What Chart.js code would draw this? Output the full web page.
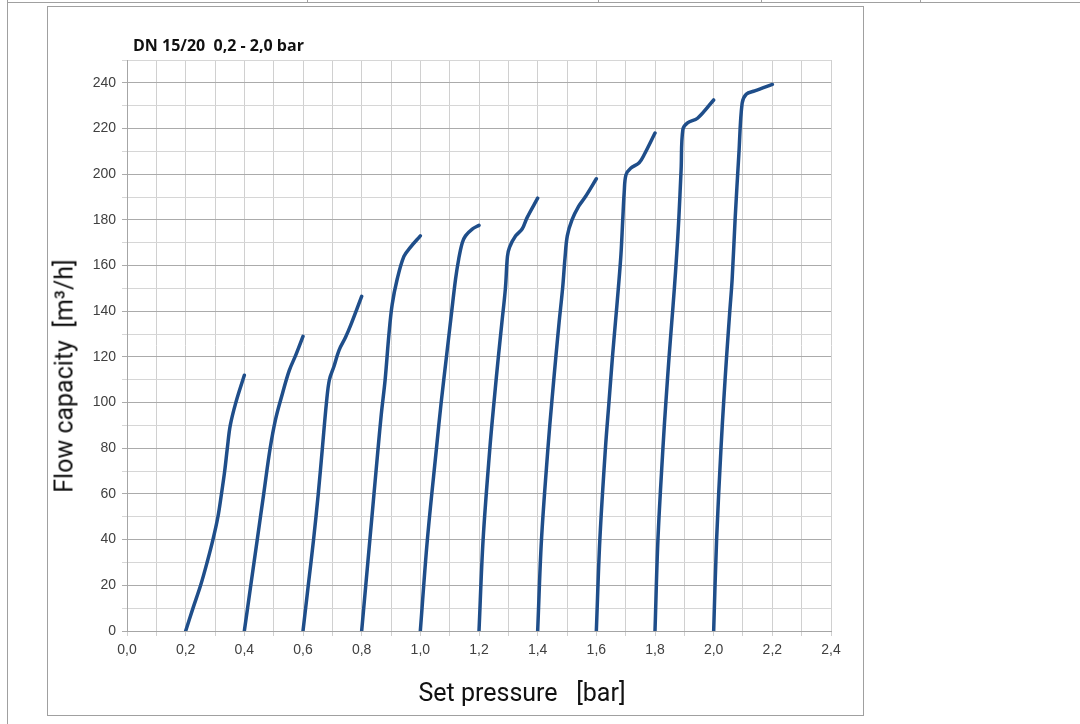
<!DOCTYPE html>
<html>
<head>
<meta charset="utf-8">
<title>DN 15/20 flow capacity</title>
<script src="https://cdn.jsdelivr.net/npm/chart.js@4.4.1/dist/chart.umd.min.js"></script>
<style>
  body { margin: 0; background: #fff; }
  #page { position: relative; width: 1080px; height: 724px; overflow: hidden; background: #fff; }
  .rule { position: absolute; background: #a0a0a0; }
  #box { position: absolute; left: 47px; top: 6px; width: 815px; height: 708px; border: 1px solid #a0a0a0; }
  #chart { position: absolute; left: 0; top: 0; }
  .txt { position: absolute; color: #111; white-space: pre; }
  #title { left: 133px; top: 34px; font: bold 16px "Open Sans", "Noto Sans", sans-serif; }
  #ytitle { left: 64px; top: 376px; font: 25px Roboto, "Liberation Sans", sans-serif; transform: translate(-50%, -50%) rotate(-90deg); }
  #xtitle { left: 522px; top: 692px; font: 25px Roboto, "Liberation Sans", sans-serif; transform: translate(-50%, -50%); }
</style>
</head>
<body>
<div id="page">
  <div class="rule" style="left:7px;top:2px;width:1073px;height:1px"></div>
  <div class="rule" style="left:7px;top:0;width:1px;height:724px"></div>
  <div class="rule" style="left:307px;top:0;width:1px;height:2px"></div>
  <div class="rule" style="left:598px;top:0;width:1px;height:2px"></div>
  <div class="rule" style="left:761px;top:0;width:1px;height:2px"></div>
  <div class="rule" style="left:920px;top:0;width:1px;height:2px"></div>
  <div id="box"></div>
  <canvas id="chart" width="1080" height="724"></canvas>
  <div class="txt" id="title">DN 15/20  0,2 - 2,0 bar</div>
  <div class="txt" id="ytitle">Flow capacity  [m³/h]</div>
  <div class="txt" id="xtitle">Set pressure   [bar]</div>
</div>
<script>
// set pressure [bar] / flow capacity [m3/h] per curve
const p02 = [0.2, 0.225, 0.251, 0.273, 0.293, 0.31, 0.322, 0.333, 0.342, 0.352, 0.371, 0.4];
const q02 = [0, 10, 20, 30, 40, 50, 60, 70, 80, 90, 100, 112];
const p04 = [0.4, 0.422, 0.444, 0.466, 0.488, 0.507, 0.53, 0.553, 0.576, 0.6];
const q04 = [0, 20, 40, 60, 80, 93, 104, 114, 121, 129];
const p06 = [0.6, 0.618, 0.636, 0.652, 0.666, 0.68, 0.69, 0.706, 0.723, 0.745, 0.763, 0.8];
const q06 = [0, 20, 40, 60, 80, 100, 110, 116, 123, 128.6, 134, 146.5];
const p08 = [0.8, 0.814, 0.828, 0.842, 0.856, 0.867, 0.88, 0.893, 0.904, 0.921, 0.944, 0.966, 1.0];
const q08 = [0, 20, 40, 60, 80, 95, 110, 130, 143, 154, 164, 168, 173];
const p10 = [1.0, 1.024, 1.055, 1.071, 1.089, 1.107, 1.12, 1.131, 1.143, 1.154, 1.177, 1.2];
const q10 = [0, 40, 80, 100, 120, 140, 154, 163, 170, 173, 176, 177.6];
const p12 = [1.2, 1.214, 1.237, 1.251, 1.266, 1.278, 1.29, 1.297, 1.304, 1.325, 1.347, 1.364, 1.4];
const q12 = [0, 40, 80, 100, 120, 135, 150, 164, 168, 173, 176, 181, 189.5];
const p14 = [1.4, 1.413, 1.435, 1.448, 1.462, 1.473, 1.485, 1.493, 1.501, 1.517, 1.54, 1.562, 1.6];
const q14 = [0, 40, 80, 100, 120, 135, 150, 163, 173, 180, 186, 190, 198];
const p16 = [1.6, 1.612, 1.631, 1.643, 1.655, 1.665, 1.675, 1.684, 1.69, 1.695, 1.701, 1.717, 1.746, 1.763, 1.8];
const q16 = [0, 40, 80, 100, 120, 135, 150, 165, 180, 192, 199.7, 202.6, 205, 208.5, 218];
const p18 = [1.8, 1.81, 1.827, 1.837, 1.848, 1.857, 1.866, 1.874, 1.881, 1.889, 1.895, 1.911, 1.945, 2.0];
const q18 = [0, 40, 80, 100, 120, 135, 150, 165, 180, 202, 219.6, 222.5, 224.5, 232.5];
const p20 = [2.0, 2.01, 2.025, 2.034, 2.044, 2.055, 2.063, 2.073, 2.086, 2.097, 2.111, 2.14, 2.2];
const q20 = [0, 40, 80, 100, 120, 140, 154, 180, 209, 231, 235, 236.5, 239.3];

const curves = [[p02, q02], [p04, q04], [p06, q06], [p08, q08], [p10, q10],
                [p12, q12], [p14, q14], [p16, q16], [p18, q18], [p20, q20]];

const tickFont = { family: '"Liberation Sans", Arial, sans-serif', size: 14 };

new Chart(document.getElementById('chart'), {
    type: 'line',
    data: {
        datasets: curves.map(([p, q]) => ({
            data: p.map((x, i) => ({ x: x, y: q[i] })),
            borderColor: '#1f4e8a',
            borderWidth: 3.5,
            borderCapStyle: 'round',
            borderJoinStyle: 'round',
            pointRadius: 0,
            tension: 0.35,
            fill: false
        }))
    },
    options: {
        responsive: false,
        animation: false,
        layout: { padding: { left: 0, top: 60, right: 249, bottom: 63 } },
        plugins: { legend: { display: false }, tooltip: { enabled: false } },
        scales: {
            x: {
                type: 'linear',
                min: 0,
                max: 2.4,
                afterFit: s => { s.height = 30; },
                border: { color: '#a6a6a6' },
                grid: { color: '#d0d0d0', tickLength: 5 },
                ticks: {
                    stepSize: 0.1,
                    autoSkip: false,
                    maxRotation: 0,
                    padding: 6,
                    color: '#404040',
                    font: tickFont,
                    callback: v => {
                        const t = Math.round(v * 10);
                        return t % 2 === 0 ? (t / 10).toFixed(1).replace('.', ',') : '';
                    }
                }
            },
            y: {
                min: 0,
                max: 250,
                afterFit: s => { s.width = 127; },
                border: { color: '#a6a6a6' },
                grid: {
                    tickLength: 5,
                    color: c => (c.tick && c.tick.value % 20 === 0 && c.tick.value <= 240) ? '#ababab' : '#d6d6d6'
                },
                ticks: {
                    stepSize: 10,
                    autoSkip: false,
                    padding: 6,
                    color: '#404040',
                    font: tickFont,
                    callback: v => (v % 20 === 0 && v <= 240) ? String(v) : ''
                }
            }
        }
    }
});
</script>
</body>
</html>
